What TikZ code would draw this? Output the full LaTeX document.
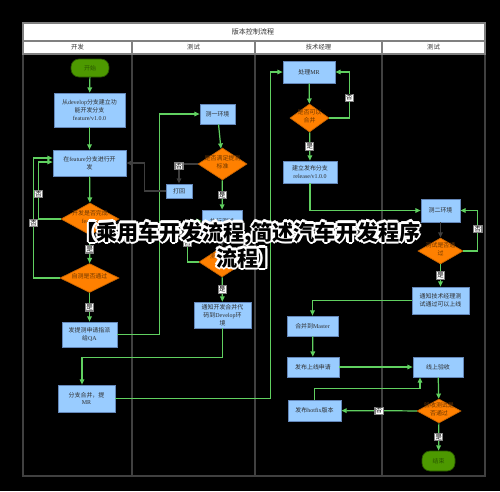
\documentclass[tikz,border=0pt]{standalone}
\usepackage{fontspec}
\setmainfont{Noto Sans CJK SC}
\newfontfamily\enfont{Liberation Serif}
\newcommand{\en}[1]{{\enfont #1}}
\usepackage{tikz}
\usetikzlibrary{arrows.meta,shapes.geometric}
\usepackage{xcolor}
\definecolor{vcblue}{RGB}{153,204,255}
\definecolor{vcbluedraw}{RGB}{100,135,185}
\definecolor{vcorange}{RGB}{255,128,0}
\definecolor{vcorangedraw}{RGB}{200,100,0}
\definecolor{vcbrown}{RGB}{110,55,0}
\definecolor{vcgreen}{RGB}{77,153,0}
\definecolor{vcgreendark}{RGB}{40,85,0}
\definecolor{vcline}{RGB}{96,208,96}
\definecolor{vcgrey}{RGB}{62,62,62}
\definecolor{vclane}{RGB}{64,64,64}
\definecolor{vctext}{RGB}{45,45,45}
\tikzstyle{flow} = [line width=0.7pt,-{Triangle[length=3pt,width=2.6pt]},color=vcline]
\tikzstyle{back} = [line width=0.7pt,-{Triangle[length=3pt,width=2.6pt]},color=vcgrey]
% diamond text that does not grow the diamond
\newcommand{\dtext}[1]{\raisebox{-0.8pt}[0pt][0pt]{\makebox[0pt]{\begin{tabular}{@{}c@{}}#1\end{tabular}}}}

\begin{document}
\begin{tikzpicture}[x=0.02cm, y=-0.02cm,
    process/.style={rectangle, draw=vcbluedraw, fill=vcblue, text=vctext, align=center, inner sep=1pt, font=\fontsize{3.4}{4.4}\selectfont},
    decision/.style={diamond, draw=vcorangedraw, fill=vcorange, text=vcbrown, inner sep=0pt, font=\fontsize{3.4}{4.4}\selectfont},
    startstop/.style={rectangle, rounded corners=0.16cm, draw=vcgreendark, fill=vcgreen, text=vcgreendark, font=\fontsize{3.4}{4.4}\selectfont},
    yn/.style={fill=white, draw=gray, text=black, inner sep=0.5pt, font=\fontsize{3.6}{4}\selectfont},
    lanehead/.style={text=black!80, font=\fontsize{3.6}{4}\selectfont},
    banner/.style={align=center, font=\fontsize{12}{14.8}\selectfont\bfseries}]

% Background and swimlanes
\fill[black] (0,0) rectangle (500,491);
\useasboundingbox (0,0) rectangle (500,491);
\draw[vclane, line width=1pt] (23,54) rectangle (485,476);
\foreach \lx in {132,255,382}
  \draw[vclane, line width=1pt] (\lx,54) -- (\lx,476);
\draw[gray, fill=white, line width=0.6pt] (23,23) rectangle (485,41);
\draw[gray, fill=white, line width=0.6pt] (23,41) rectangle (485,54);
\foreach \lx in {132,255,382}
  \draw[gray, line width=0.8pt] (\lx,41) -- (\lx,54);
\node[lanehead, font=\fontsize{4}{5}\selectfont] (title) at (253,32) {版本控制流程};
\node[lanehead] (dev-head) at (77.5,47.5) {开发};
\node[lanehead] (qa-head) at (193.5,47.5) {测试};
\node[lanehead] (tm-head) at (318.5,47.5) {技术经理};
\node[lanehead] (qa2-head) at (433.5,47.5) {测试};

% Lane 1: development
\node[startstop, minimum width=0.76cm, minimum height=0.36cm] (start) at (90,68) {开始};
\node[process, minimum width=1.42cm, minimum height=0.68cm] (branch) at (89.5,110) {从\en{develop}分支建立功\\能开发分支\\\en{feature/v1.0.0}};
\node[process, minimum width=1.46cm, minimum height=0.52cm] (feat) at (89.5,163) {在\en{feature}分支进行开\\发};
\node[decision, minimum width=1.16cm, minimum height=0.64cm] (done) at (90,219) {\dtext{开发是否完成\\\en{feature}}};
\node[decision, minimum width=1.18cm, minimum height=0.58cm] (selftest) at (89.5,278) {\dtext{自测是否通过}};
\node[process, minimum width=1.10cm, minimum height=0.50cm] (submit) at (89.5,334.5) {发提测申请指派\\给\en{QA}};
\node[process, minimum width=1.14cm, minimum height=0.54cm] (mr) at (86.5,398.5) {分支合并，提\\\en{MR}};

% Lane 2: test
\node[process, minimum width=0.70cm, minimum height=0.40cm] (env1) at (217.5,114) {测一环境};
\node[decision, minimum width=0.98cm, minimum height=0.64cm] (meet) at (222.5,164) {\dtext{是否满足提测\\标准}};
\node[process, minimum width=0.52cm, minimum height=0.28cm] (reject) at (179,191) {打回};
\node[process, minimum width=0.80cm, minimum height=0.44cm] (exec) at (222,221) {执行测试};
\node[decision, minimum width=0.92cm, minimum height=0.60cm] (test1) at (222,262) {\dtext{测试是否\\通过}};
\node[process, minimum width=1.14cm, minimum height=0.52cm] (notify) at (222.5,315) {通知开发合并代\\码到\en{Develop}环\\境};

% Lane 3: tech manager
\node[process, minimum width=1.04cm, minimum height=0.44cm] (handle) at (309,72) {处理\en{MR}};
\node[decision, minimum width=0.78cm, minimum height=0.56cm] (canmerge) at (309.5,118) {\dtext{是否可以\\合并}};
\node[process, minimum width=1.08cm, minimum height=0.44cm] (release) at (310,172) {建立发布分支\\\en{release/v1.0.0}};
\node[process, minimum width=1.02cm, minimum height=0.40cm] (master) at (312.5,326) {合并到\en{Master}};
\node[process, minimum width=1.04cm, minimum height=0.40cm] (apply) at (313,367) {发布上线申请};
\node[process, minimum width=1.06cm, minimum height=0.42cm] (hotfix) at (314.5,410.5) {发布\en{hotfix}版本};

% Lane 4: test
\node[process, minimum width=0.78cm, minimum height=0.46cm] (env2) at (440.5,210.5) {测二环境};
\node[decision, minimum width=0.90cm, minimum height=0.52cm] (test2) at (440.5,251) {\dtext{测试是否通\\过}};
\node[process, minimum width=1.14cm, minimum height=0.54cm] (notifytm) at (440.5,300.5) {通知技术经理测\\试通过可以上线};
\node[process, minimum width=1.00cm, minimum height=0.40cm] (accept) at (438,367) {线上验收};
\node[decision, minimum width=0.88cm, minimum height=0.48cm] (acctest) at (439,411) {\dtext{验收测试是\\否通过}};
\node[startstop, minimum width=0.66cm, minimum height=0.40cm] (end) at (438.5,461) {结束};

% Connections, lane 1
\draw[flow] (start) -- (branch);
\draw[flow] (branch) -- (feat);
\draw[flow] (feat) -- (done);
\draw[flow] (done.west) -- ++(-22,0) |- node[pos=0.22, yn] {否} ([yshift=0.02cm]feat.west);
\draw[flow] (selftest.west) -- ++(-26,0) |- node[pos=0.23, yn] {否} ([yshift=0.1cm]feat.west);
\draw[flow] (done) -- node[yn] {是} (selftest);
\draw[flow] (selftest) -- node[yn] {是} (submit);
\draw[flow] (submit.east) -- ++(42,0) |- (env1.west);

% Connections, lane 2
\draw[flow] (env1) -- (meet);
\draw[back] (meet.west) -| node[pos=0.55, yn] {否} (reject.north);
\draw[back] (reject.west) -- ++(-21,0) |- (feat.east);
\draw[flow] (meet) -- node[yn] {是} (exec);
\draw[back] (exec) -- (test1);
\draw[flow] (test1.west) -- ++(-11,0) |- node[pos=0.23, yn] {否} (exec.west);
\draw[flow] (test1) -- node[yn] {是} (notify);
\draw[flow] (notify.south) -- ++(0,29) -| ([xshift=-0.09cm]mr.north);
\draw[flow] (mr.east) -- ++(155,0) |- (handle.west);

% Connections, lane 3
\draw[flow] (handle) -- (canmerge);
\draw[flow] (canmerge.east) -- ++(20,0) |- node[pos=0.22, yn] {否} (handle.east);
\draw[flow] (canmerge) -- node[yn] {是} (release);
\draw[flow] (release.south) |- (env2.west);
\draw[flow] (master) -- (apply);
\draw[flow] (apply) -- (accept);
\draw[flow] (hotfix.north) -- ++(0,-11) -| ([xshift=-0.36cm]accept.south);

% Connections, lane 4
\draw[back] (env2) -- (test2);
\draw[flow] (test2.east) -- ++(14.5,0) |- node[pos=0.27, yn] {否} (env2.east);
\draw[flow] (test2) -- node[yn] {是} (notifytm);
\draw[flow] (notifytm.west) -| (master.north);
\draw[flow] (accept) -- (acctest);
\draw[flow] (acctest) -- node[yn] {否} (hotfix);
\draw[flow] (acctest) -- node[yn] {是} (end);

% Caption across the middle, white halo then black
\foreach \a in {0,45,...,315}
  \node[banner, text=white, shift={(\a:0.045cm)}] at (248,245) {【乘用车开发流程,简述汽车开发程序\\流程】};
\node[banner, text=black] (caption) at (248,245) {【乘用车开发流程,简述汽车开发程序\\流程】};
\end{tikzpicture}
\end{document}
